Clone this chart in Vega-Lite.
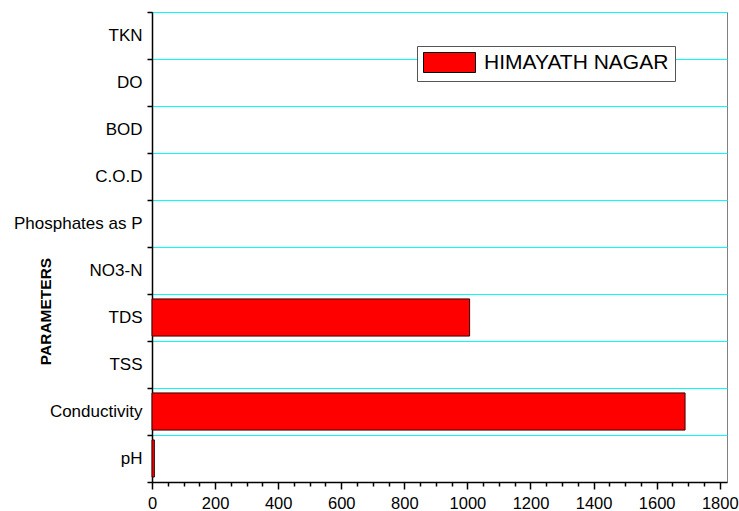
{
  "$schema": "https://vega.github.io/schema/vega-lite/v6.json",
  "width": 575,
  "height": 470,
  "autosize": "none",
  "padding": {"left": 152, "top": 12, "right": 12, "bottom": 29},
  "background": "white",
  "config": {"view": {"stroke": "#808080", "strokeWidth": 1}, "font": "Liberation Sans"},
  "data": {"values": [
    {"parameter": "TKN", "station": "HIMAYATH NAGAR", "value": null},
    {"parameter": "DO", "station": "HIMAYATH NAGAR", "value": null},
    {"parameter": "BOD", "station": "HIMAYATH NAGAR", "value": null},
    {"parameter": "C.O.D", "station": "HIMAYATH NAGAR", "value": null},
    {"parameter": "Phosphates as P", "station": "HIMAYATH NAGAR", "value": null},
    {"parameter": "NO3-N", "station": "HIMAYATH NAGAR", "value": null},
    {"parameter": "TDS", "station": "HIMAYATH NAGAR", "value": 1007},
    {"parameter": "TSS", "station": "HIMAYATH NAGAR", "value": null},
    {"parameter": "Conductivity", "station": "HIMAYATH NAGAR", "value": 1690},
    {"parameter": "pH", "station": "HIMAYATH NAGAR", "value": 7.5}
  ]},
  "mark": {"type": "bar", "stroke": "#3a0000", "strokeWidth": 1, "opacity": 1, "height": {"band": 0.79}},
  "encoding": {
    "y": {
      "field": "parameter",
      "type": "nominal",
      "sort": ["TKN", "DO", "BOD", "C.O.D", "Phosphates as P", "NO3-N", "TDS", "TSS", "Conductivity", "pH"],
      "scale": {"domain": ["TKN", "DO", "BOD", "C.O.D", "Phosphates as P", "NO3-N", "TDS", "TSS", "Conductivity", "pH"], "paddingInner": 0, "paddingOuter": 0},
      "axis": {
        "title": "PARAMETERS",
        "titleFontWeight": "bold",
        "titleFontSize": 15.5,
        "titleColor": "black",
        "titleX": -107,
        "titleY": 299,
        "titleAngle": -90,
        "titleAlign": "center",
        "titleBaseline": "middle",
        "labelFontSize": 17,
        "labelColor": "black",
        "labelPadding": 5,
        "labelLimit": 0,
        "tickBand": "extent",
        "tickSize": 5,
        "tickColor": "black",
        "tickWidth": 1.5,
        "domainColor": "black",
        "domainWidth": 1.5,
        "grid": true,
        "gridColor": "#00ffff",
        "gridOpacity": 1,
        "gridWidth": 1
      }
    },
    "x": {
      "field": "value",
      "type": "quantitative",
      "scale": {"domain": [0, 1823], "nice": false},
      "axis": {
        "title": null,
        "grid": false,
        "values": [0,50,100,150,200,250,300,350,400,450,500,550,600,650,700,750,800,850,900,950,1000,1050,1100,1150,1200,1250,1300,1350,1400,1450,1500,1550,1600,1650,1700,1750,1800],
        "format": "d",
        "labelExpr": "datum.value % 200 === 0 ? datum.label : ''",
        "tickSize": {"condition": {"test": "datum.value % 200 === 0", "value": 7}, "value": 4},
        "tickColor": "black",
        "tickWidth": 1.5,
        "domainColor": "black",
        "domainWidth": 1.5,
        "labelFontSize": 16.5,
        "labelColor": "black",
        "labelPadding": 6,
        "labelFlush": false,
        "labelOverlap": false
      }
    },
    "color": {
      "field": "station",
      "type": "nominal",
      "scale": {"range": ["#ff0000"]},
      "legend": {
        "orient": "none",
        "legendX": 265,
        "legendY": 34,
        "title": null,
        "labelFontSize": 21,
        "labelColor": "black",
        "labelLimit": 0,
        "labelOffset": 40,
        "symbolType": "M-1,-1H4.2V1H-1Z",
        "symbolSize": 400,
        "symbolStrokeColor": "black",
        "symbolStrokeWidth": 1,
        "symbolOpacity": 1,
        "fillColor": "white",
        "strokeColor": "#555555",
        "padding": 6,
        "cornerRadius": 0
      }
    }
  }
}
